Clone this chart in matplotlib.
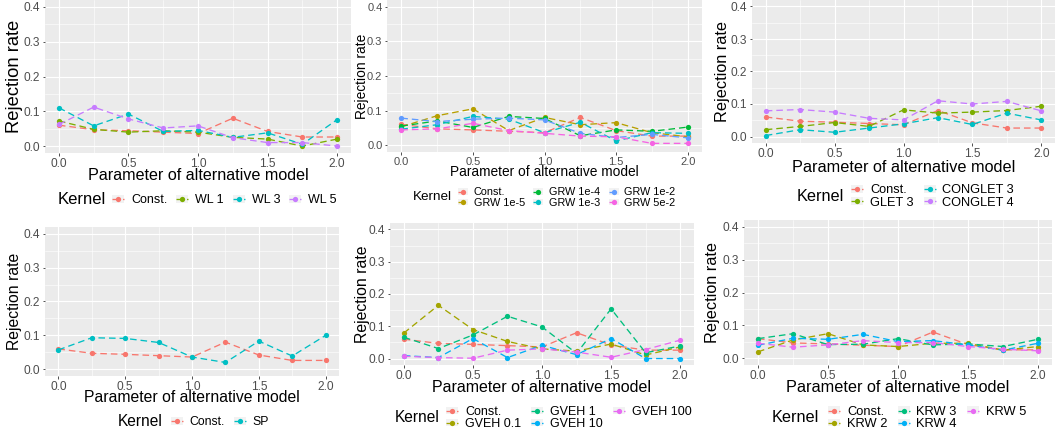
import matplotlib
matplotlib.use("Agg")
import matplotlib.pyplot as plt
from matplotlib.legend_handler import HandlerLine2D
from matplotlib.patches import Rectangle
from matplotlib.ticker import MultipleLocator, FormatStrFormatter

plt.rcParams['font.family'] = ['Liberation Sans', 'DejaVu Sans']

W, H = 1055, 438

# ---------------- data ----------------
x_param = [0.0, 0.25, 0.5, 0.75, 1.0, 1.25, 1.5, 1.75, 2.0]

const = [0.060, 0.047, 0.044, 0.040, 0.036, 0.080, 0.042, 0.026, 0.026]

# Panel 1: WL
wl1 = [0.072, 0.048, 0.040, 0.044, 0.040, 0.025, 0.020, 0.000, 0.020]
wl3 = [0.110, 0.058, 0.092, 0.042, 0.045, 0.025, 0.038, 0.005, 0.076]
wl5 = [0.062, 0.112, 0.078, 0.052, 0.058, 0.024, 0.010, 0.010, 0.000]

# Panel 2: GRW
grw_1e5 = [0.053, 0.085, 0.105, 0.042, 0.080, 0.059, 0.065, 0.036, 0.024]
grw_1e4 = [0.055, 0.070, 0.051, 0.083, 0.077, 0.027, 0.044, 0.040, 0.052]
grw_1e3 = [0.046, 0.059, 0.083, 0.075, 0.036, 0.066, 0.012, 0.036, 0.034]
grw_1e2 = [0.078, 0.068, 0.075, 0.078, 0.073, 0.034, 0.022, 0.031, 0.021]
grw_5e2 = [0.044, 0.047, 0.063, 0.042, 0.034, 0.026, 0.024, 0.005, 0.005]

# Panel 3: GLET / CONGLET
glet3 = [0.021, 0.031, 0.043, 0.031, 0.082, 0.072, 0.075, 0.080, 0.093]
conglet3 = [0.003, 0.021, 0.013, 0.026, 0.039, 0.058, 0.037, 0.072, 0.051]
conglet4 = [0.079, 0.083, 0.075, 0.056, 0.051, 0.110, 0.100, 0.108, 0.079]

# Panel 4: SP
sp = [0.057, 0.093, 0.091, 0.079, 0.036, 0.020, 0.083, 0.039, 0.100]

# Panel 5: GVEH
gveh_01 = [0.079, 0.165, 0.090, 0.053, 0.030, 0.023, 0.045, 0.011, 0.036]
gveh_1 = [0.066, 0.031, 0.073, 0.131, 0.098, 0.016, 0.154, 0.018, 0.039]
gveh_10 = [0.009, 0.003, 0.062, 0.003, 0.041, 0.012, 0.062, 0.000, 0.000]
gveh_100 = [0.007, 0.003, 0.001, 0.026, 0.030, 0.020, 0.004, 0.028, 0.057]

# Panel 6: KRW
krw2 = [0.020, 0.056, 0.075, 0.041, 0.036, 0.046, 0.046, 0.025, 0.036]
krw3 = [0.060, 0.075, 0.042, 0.043, 0.060, 0.041, 0.044, 0.036, 0.058]
krw4 = [0.040, 0.061, 0.058, 0.073, 0.051, 0.054, 0.041, 0.025, 0.046]
krw5 = [0.046, 0.034, 0.041, 0.054, 0.048, 0.048, 0.036, 0.028, 0.023]

labels_p1 = ["Const.", "WL 1", "WL 3", "WL 5"]
labels_p2 = ["Const.", "GRW 1e-5", "GRW 1e-4", "GRW 1e-3", "GRW 1e-2", "GRW 5e-2"]
labels_p3 = ["Const.", "GLET 3", "CONGLET 3", "CONGLET 4"]
labels_p4 = ["Const.", "SP"]
labels_p5 = ["Const.", "GVEH 0.1", "GVEH 1", "GVEH 10", "GVEH 100"]
labels_p6 = ["Const.", "KRW 2", "KRW 3", "KRW 4", "KRW 5"]

y_ticks = [0.0, 0.1, 0.2, 0.3, 0.4]
x_ticks = [0.0, 0.5, 1.0, 1.5, 2.0]

PAL2 = ['#F8766D', '#00BFC4']
PAL4 = ['#F8766D', '#7CAE00', '#00BFC4', '#C77CFF']
PAL5 = ['#F8766D', '#A3A500', '#00BF7D', '#00B0F6', '#E76BF3']
PAL6 = ['#F8766D', '#B79F00', '#00BA38', '#00BFC4', '#619CFF', '#F564E3']


class KeyHandler(HandlerLine2D):
    def create_artists(self, legend, orig_handle, xdescent, ydescent,
                       width, height, fontsize, trans):
        rect = Rectangle((-xdescent, -ydescent), width, height,
                         facecolor='#F2F2F2', edgecolor='none', transform=trans)
        arts = super().create_artists(legend, orig_handle, xdescent, ydescent,
                                      width, height, fontsize, trans)
        return [rect] + list(arts)


fig = plt.figure(figsize=(W / 100, H / 100), dpi=100)
fig.patch.set_facecolor('white')


def panel(box, series, labels, colors, ylab_x, ylab_fs, xlab_y, xlab_fs,
          tick_fs, kern_x, kern_fs, leg_x, leg_y, leg_fs, ncol,
          hl_px=12, htp_px=6, cs_px=8, ls=0.0, hh=0.6):
    l, t, r, b = box
    ax = fig.add_axes([l / W, 1 - b / H, (r - l) / W, (b - t) / H])
    ax.set_facecolor('#EBEBEB')
    for s in ax.spines.values():
        s.set_visible(False)
    ax.set_xlim(-0.1, 2.1)
    ax.set_ylim(-0.02, 0.42)
    ax.set_xticks(x_ticks)
    ax.set_yticks(y_ticks)
    ax.xaxis.set_minor_locator(MultipleLocator(0.25))
    ax.yaxis.set_minor_locator(MultipleLocator(0.05))
    ax.xaxis.set_major_formatter(FormatStrFormatter('%.1f'))
    ax.yaxis.set_major_formatter(FormatStrFormatter('%.1f'))
    ax.grid(which='major', color='white', linewidth=0.85)
    ax.grid(which='minor', color='white', linewidth=0.4)
    ax.set_axisbelow(True)
    ax.tick_params(which='major', length=1.8, width=0.6, color='#333333',
                   labelsize=tick_fs, labelcolor='#4D4D4D', pad=1.5)
    ax.tick_params(which='minor', length=0)
    handles = []
    for ys, lab, c in zip(series, labels, colors):
        ln, = ax.plot(x_param, ys, color=c, linewidth=0.95,
                      linestyle=(0, (5, 3)), marker='o', markersize=3.8,
                      markeredgewidth=0, label=lab)
        handles.append(ln)
    ax.set_ylabel('Rejection rate', fontsize=ylab_fs, color='black',
                  ha='center', va='center')
    ax.yaxis.set_label_coords((ylab_x - l) / (r - l), 0.5)
    ax.set_xlabel('Parameter of alternative model', fontsize=xlab_fs,
                  color='black', ha='center', va='center')
    ax.xaxis.set_label_coords(0.5, 1 - (xlab_y - t) / (b - t))

    fig.text(kern_x / W, 1 - leg_y / H, 'Kernel', fontsize=kern_fs,
             ha='left', va='center', color='black')
    fs_px = leg_fs * 100 / 72
    fig.legend(handles=handles, labels=labels, loc='center left',
               bbox_to_anchor=(leg_x / W, 1 - leg_y / H),
               ncol=ncol, frameon=False, fontsize=leg_fs,
               handlelength=hl_px / fs_px, handleheight=hh,
               handletextpad=htp_px / fs_px, columnspacing=cs_px / fs_px,
               labelspacing=ls, borderpad=0, borderaxespad=0, numpoints=1,
               handler_map={ln: KeyHandler() for ln in handles})
    return ax


panel((45, 0, 351, 153), [const, wl1, wl3, wl5], labels_p1, PAL4,
      ylab_x=15, ylab_fs=13.2, xlab_y=176, xlab_fs=11.6, tick_fs=8.6,
      kern_x=58, kern_fs=12, leg_x=112, leg_y=200, leg_fs=9, ncol=4,
      hl_px=12, htp_px=7, cs_px=9)

panel((387, 0, 702, 152),
      [const, grw_1e5, grw_1e4, grw_1e3, grw_1e2, grw_5e2], labels_p2, PAL6,
      ylab_x=362, ylab_fs=9.9, xlab_y=172, xlab_fs=9.9, tick_fs=8.0,
      kern_x=413, kern_fs=9.7, leg_x=458, leg_y=197.5, leg_fs=7.8, ncol=3,
      hl_px=10, htp_px=6, cs_px=8, ls=0.02, hh=0.55)

panel((752, 0, 1055, 143), [const, glet3, conglet3, conglet4], labels_p3, PAL4,
      ylab_x=722, ylab_fs=11.7, xlab_y=167, xlab_fs=11.7, tick_fs=8.6,
      kern_x=797, kern_fs=11.7, leg_x=851, leg_y=196.5, leg_fs=9.2, ncol=2,
      hl_px=12, htp_px=7, cs_px=10, ls=0.02, hh=0.55)

panel((45, 227, 339, 376), [const, sp], labels_p4, PAL2,
      ylab_x=15, ylab_fs=11.3, xlab_y=398, xlab_fs=11.3, tick_fs=8.6,
      kern_x=118, kern_fs=11.2, leg_x=171, leg_y=422, leg_fs=8.8, ncol=2,
      hl_px=12, htp_px=6, cs_px=10)

panel((390, 223, 694, 365),
      [const, gveh_01, gveh_1, gveh_10, gveh_100], labels_p5, PAL5,
      ylab_x=363, ylab_fs=11.4, xlab_y=388, xlab_fs=11.5, tick_fs=8.6,
      kern_x=395, kern_fs=11.2, leg_x=446, leg_y=418, leg_fs=9.0, ncol=3,
      hl_px=12, htp_px=7, cs_px=10, ls=0.02, hh=0.55)

panel((744, 220, 1052, 365), [const, krw2, krw3, krw4, krw5], labels_p6, PAL5,
      ylab_x=713, ylab_fs=11.7, xlab_y=388, xlab_fs=11.7, tick_fs=8.6,
      kern_x=772, kern_fs=11.7, leg_x=828, leg_y=418, leg_fs=9.3, ncol=3,
      hl_px=12, htp_px=7, cs_px=10, ls=0.02, hh=0.55)

fig.savefig('out.png', dpi=100, facecolor='white')
